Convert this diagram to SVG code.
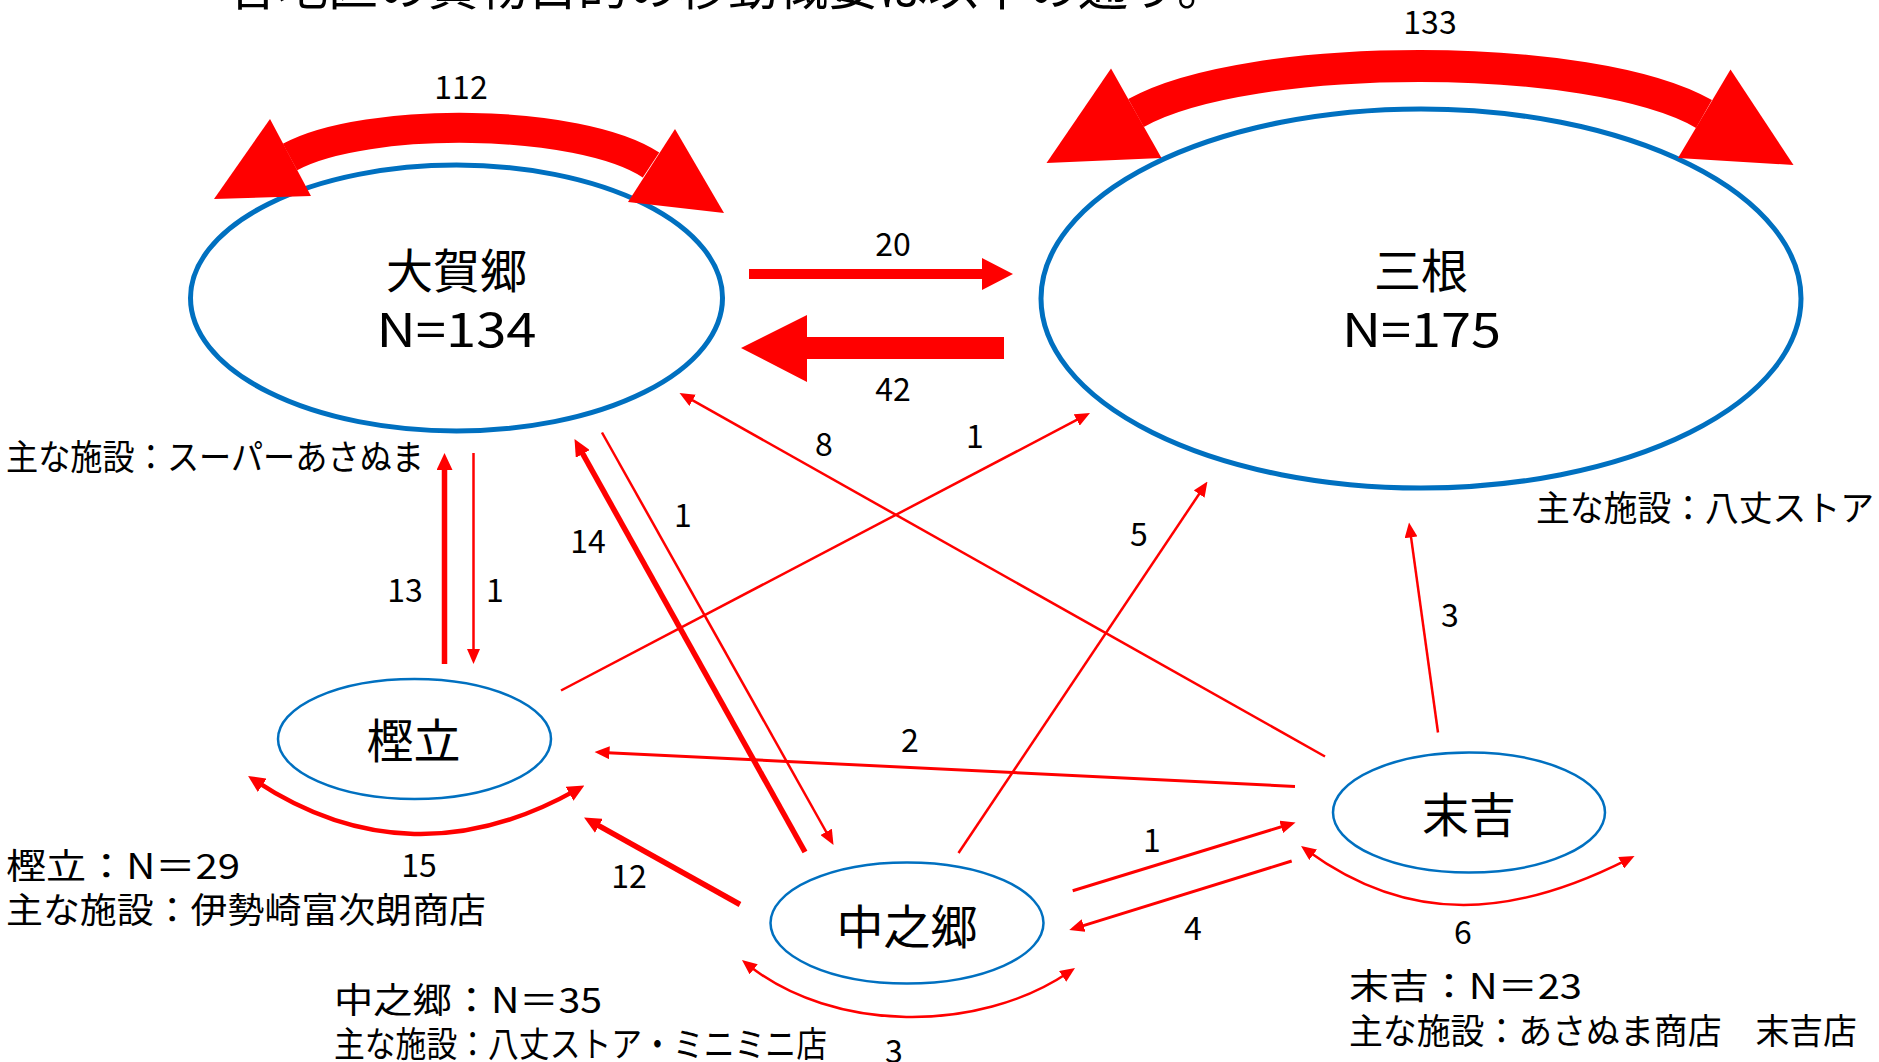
<svg xmlns="http://www.w3.org/2000/svg" width="1879" height="1062" viewBox="0 0 1879 1062">
<defs>
<style>
.ell-big{fill:none;stroke:#0070C0;stroke-width:5}
.ell-small{fill:none;stroke:#0070C0;stroke-width:2.5}
.lbl{font-family:"Noto Sans CJK JP","Noto Sans",sans-serif;font-size:47px;fill:#000;text-anchor:middle}
.ann{font-family:"Noto Sans CJK JP","Noto Sans",sans-serif;font-size:35px;fill:#000}
.num{font-family:"Noto Sans CJK JP","Noto Sans",sans-serif;font-size:32px;fill:#000;text-anchor:middle}
.title{font-family:"Noto Sans CJK JP",sans-serif;font-size:50px;fill:#000}
.thin{fill:none;stroke:#FF0000;stroke-width:2.5;marker-end:url(#ah)}
.mid{fill:none;stroke:#FF0000;stroke-width:3;marker-end:url(#ah)}
.thick{fill:none;stroke:#FF0000;stroke-width:5.5;marker-end:url(#ahT)}
.loop{fill:none;stroke:#FF0000;stroke-width:2.5;marker-start:url(#ahS);marker-end:url(#ah)}
.loopT{fill:none;stroke:#FF0000;stroke-width:4.5;marker-start:url(#ahTS);marker-end:url(#ahT)}
.band{fill:none;stroke:#FF0000}
.red{fill:#FF0000}
</style>
<marker id="ah" markerUnits="userSpaceOnUse" viewBox="0 0 15 13" markerWidth="15" markerHeight="13" refX="7" refY="6.5" orient="auto"><path d="M0,0 L15,6.5 L0,13 z" fill="#FF0000"/></marker>
<marker id="ahS" markerUnits="userSpaceOnUse" viewBox="0 0 15 13" markerWidth="15" markerHeight="13" refX="7" refY="6.5" orient="auto-start-reverse"><path d="M0,0 L15,6.5 L0,13 z" fill="#FF0000"/></marker>
<marker id="ahT" markerUnits="userSpaceOnUse" viewBox="0 0 17 16" markerWidth="17" markerHeight="16" refX="8" refY="8" orient="auto"><path d="M0,0 L17,8 L0,16 z" fill="#FF0000"/></marker>
<marker id="ahTS" markerUnits="userSpaceOnUse" viewBox="0 0 17 16" markerWidth="17" markerHeight="16" refX="8" refY="8" orient="auto-start-reverse"><path d="M0,0 L17,8 L0,16 z" fill="#FF0000"/></marker>
</defs>
<rect x="0" y="0" width="1879" height="1062" fill="#FFFFFF"/>

<text class="title" x="228" y="5">各地区の買物目的の移動概要は以下の通り。</text>

<g id="node-ookago">
<ellipse class="ell-big" cx="456.5" cy="298" rx="266" ry="133"/>
<text class="lbl" x="456.5" y="288">大賀郷</text>
<text class="lbl" x="456.5" y="347" textLength="160" lengthAdjust="spacingAndGlyphs">N=134</text>
<text class="ann" x="6" y="470" textLength="418" lengthAdjust="spacingAndGlyphs">主な施設：スーパーあさぬま</text>
</g>

<g id="node-mitsune">
<ellipse class="ell-big" cx="1421" cy="298.5" rx="380" ry="189.5"/>
<text class="lbl" x="1421" y="288">三根</text>
<text class="lbl" x="1421.5" y="347" textLength="159" lengthAdjust="spacingAndGlyphs">N=175</text>
<text class="ann" x="1536" y="521" textLength="338" lengthAdjust="spacingAndGlyphs">主な施設：八丈ストア</text>
</g>

<g id="node-kashitate">
<ellipse class="ell-small" cx="414.5" cy="739" rx="136.5" ry="60"/>
<text class="lbl" x="413.5" y="758">樫立</text>
<text class="ann" x="6" y="879" textLength="234" lengthAdjust="spacingAndGlyphs">樫立：N＝29</text>
<text class="ann" x="6" y="923" textLength="480" lengthAdjust="spacingAndGlyphs">主な施設：伊勢崎富次朗商店</text>
</g>

<g id="node-nakanogo">
<ellipse class="ell-small" cx="907" cy="923" rx="136.5" ry="60.5"/>
<text class="lbl" x="907" y="944">中之郷</text>
<text class="ann" x="334" y="1013" textLength="268" lengthAdjust="spacingAndGlyphs">中之郷：N＝35</text>
<text class="ann" x="334" y="1057" textLength="493" lengthAdjust="spacingAndGlyphs">主な施設：八丈ストア・ミニミニ店</text>
</g>

<g id="node-sueyoshi">
<ellipse class="ell-small" cx="1469" cy="812.5" rx="136" ry="60"/>
<text class="lbl" x="1469" y="831.5">末吉</text>
<text class="ann" x="1349" y="999" textLength="233" lengthAdjust="spacingAndGlyphs">末吉：N＝23</text>
<text class="ann" x="1349" y="1044" textLength="508" lengthAdjust="spacingAndGlyphs">主な施設：あさぬま商店　末吉店</text>
</g>

<g id="connectors">
<!-- 112 self loop 大賀郷 -->
<path class="band" stroke-width="30" d="M290,157 C365.5,116 579.2,117.9 651,165"/>
<polygon class="red" points="270,119 214,199 311,196"/>
<polygon class="red" points="675,129 724,213 628,202"/>
<!-- 133 self loop 三根 -->
<path class="band" stroke-width="32" d="M1136,113 C1248.4,50.3 1592.3,50 1704,114"/>
<polygon class="red" points="1111,68.5 1046.5,163 1161.5,158"/>
<polygon class="red" points="1730.5,69.5 1793.5,165 1678,158"/>
<!-- 20 大賀郷→三根 -->
<polygon class="red" points="749,269 982,269 982,258 1013,274 982,290 982,279 749,279"/>
<!-- 42 三根→大賀郷 -->
<polygon class="red" points="1004,337 807,337 807,315 741,348 807,382 807,359 1004,359"/>
<!-- 13 樫立→大賀郷 -->
<line class="thick" x1="444.5" y1="664" x2="444.5" y2="462"/>
<!-- 1 大賀郷→樫立 -->
<line class="thin" x1="473.5" y1="453" x2="473.5" y2="656"/>
<!-- 14 中之郷→大賀郷 -->
<line class="thick" x1="805" y1="852" x2="578.9" y2="446.9"/>
<!-- 1 大賀郷→中之郷 -->
<line class="thin" x1="602" y1="432.5" x2="829.6" y2="838"/>
<!-- 8 末吉→大賀郷 -->
<line class="thin" x1="1325" y1="756.5" x2="686.5" y2="396.9"/>
<!-- 1 樫立→三根 -->
<line class="thin" x1="561" y1="690.5" x2="1082.9" y2="416.7"/>
<!-- 5 中之郷→三根 -->
<line class="thin" x1="958.5" y1="853" x2="1203" y2="488.2"/>
<!-- 2 末吉→樫立 -->
<line class="mid" x1="1295" y1="786.5" x2="602.5" y2="752.4"/>
<!-- 3 末吉→三根 -->
<line class="thin" x1="1438" y1="732.5" x2="1410.1" y2="530.4"/>
<!-- 12 中之郷→樫立 -->
<line class="thick" x1="740" y1="904.5" x2="591.9" y2="821.9"/>
<!-- 1 中之郷→末吉 -->
<line class="mid" x1="1072.7" y1="890.7" x2="1287.9" y2="824.8"/>
<!-- 4 末吉→中之郷 -->
<line class="mid" x1="1291.7" y1="861" x2="1076.9" y2="927.6"/>
<!-- 15 樫立 self -->
<path class="loopT" d="M255.6,780.9 C359,849.4 468,851 576.5,789.9"/>
<!-- 3 中之郷 self -->
<path class="loop" d="M748.2,965 C833.2,1032.6 977.9,1033.5 1068.4,972.5"/>
<!-- 6 末吉 self -->
<path class="loop" d="M1307.5,850.7 C1411,926.1 1513.6,917.1 1627.4,859.6"/>
</g>

<g id="connector-labels">
<text class="num" x="461" y="99">112</text>
<text class="num" x="1430" y="34">133</text>
<text class="num" x="893" y="256">20</text>
<text class="num" x="893" y="401">42</text>
<text class="num" x="824" y="456">8</text>
<text class="num" x="975" y="448">1</text>
<text class="num" x="683" y="527">1</text>
<text class="num" x="588" y="553">14</text>
<text class="num" x="1139" y="546">5</text>
<text class="num" x="1450" y="627">3</text>
<text class="num" x="405" y="602">13</text>
<text class="num" x="495" y="602">1</text>
<text class="num" x="910" y="752">2</text>
<text class="num" x="419" y="877">15</text>
<text class="num" x="629" y="888">12</text>
<text class="num" x="1152" y="852">1</text>
<text class="num" x="1193" y="940">4</text>
<text class="num" x="1463" y="944">6</text>
<text class="num" x="894" y="1063">3</text>
</g>
</svg>
